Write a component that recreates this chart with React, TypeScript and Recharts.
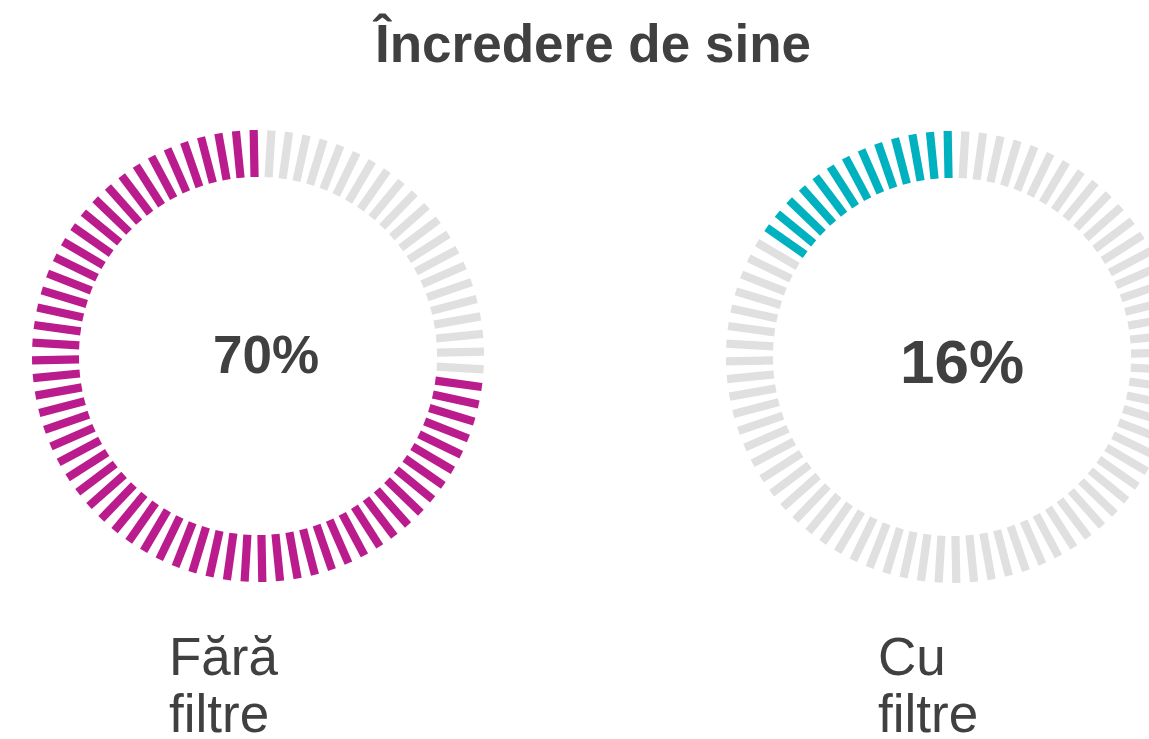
import { Cell, Pie, PieChart } from "recharts";

const groups = ["Fără filtre", "Cu filtre"];
const labelLines = [
  ["Fără", "filtre"],
  ["Cu", "filtre"],
];
const percents = [70, 16];
// coloured ticks as counted on the picture, out of 80 ticks per ring
const filledTicks = [59, 13];
const TOTAL_TICKS = 80;
const colors = ["#BA1B8D", "#00B1BF"];
const EMPTY = "#E0E0E0";
const TEXT = "#404040";

const rings = [
  { cx: 258, cy: 356, textX: 266, textY: 373, pctSize: 53, labelX: 169 },
  { cx: 952, cy: 357, textX: 962, textY: 383, pctSize: 62, labelX: 878 },
];

const RAD = Math.PI / 180;

// straight bar instead of a wedge
function TickShape(props: any) {
  const { cx, cy, innerRadius, outerRadius, startAngle, endAngle, fill } = props;
  const a = ((startAngle + endAngle) / 2) * RAD;
  const ux = Math.cos(a);
  const uy = -Math.sin(a);
  const w = 4.1;
  const pt = (r: number, s: number) =>
    `${cx + ux * r + uy * w * s},${cy + uy * r - ux * w * s}`;
  return (
    <polygon
      points={[
        pt(innerRadius, -1),
        pt(outerRadius, -1),
        pt(outerRadius, 1),
        pt(innerRadius, 1),
      ].join(" ")}
      fill={fill}
    />
  );
}

function ticksFor(i: number) {
  return Array.from({ length: TOTAL_TICKS }, (_, k) => ({
    name: groups[i],
    value: 1,
    on: k < filledTicks[i],
  }));
}

export default function App() {
  const font = "'Liberation Sans', Arial, sans-serif";
  return (
    <div
      style={{
        position: "absolute",
        left: 0,
        top: 0,
        width: 1149,
        height: 739,
        overflow: "hidden",
        background: "#fff",
      }}
    >
      <PieChart width={1149} height={739} margin={{ top: 0, right: 0, bottom: 0, left: 0 }}>
        {rings.map((r, i) => (
          <Pie
            key={groups[i]}
            data={ticksFor(i)}
            dataKey="value"
            cx={r.cx}
            cy={r.cy}
            innerRadius={179}
            outerRadius={226}
            startAngle={90}
            endAngle={450}
            paddingAngle={2.3}
            stroke="none"
            isAnimationActive={false}
            shape={TickShape}
          >
            {ticksFor(i).map((d, k) => (
              <Cell key={k} fill={d.on ? colors[i] : EMPTY} />
            ))}
          </Pie>
        ))}
      </PieChart>
      <svg
        width={1149}
        height={739}
        style={{ position: "absolute", left: 0, top: 0, pointerEvents: "none" }}
      >
        <text
          x={593}
          y={62}
          textAnchor="middle"
          fontFamily={font}
          fontWeight="bold"
          fontSize={53}
          fill={TEXT}
        >
          Încredere de sine
        </text>
        {rings.map((r, i) => (
          <g key={groups[i]}>
            <text
              x={r.textX}
              y={r.textY}
              textAnchor="middle"
              fontFamily={font}
              fontWeight="bold"
              fontSize={r.pctSize}
              fill={TEXT}
            >
              {percents[i]}%
            </text>
            {labelLines[i].map((line, j) => (
              <text
                key={line}
                x={r.labelX}
                y={675 + j * 57}
                fontFamily={font}
                fontSize={53}
                fill={TEXT}
              >
                {line}
              </text>
            ))}
          </g>
        ))}
      </svg>
    </div>
  );
}
